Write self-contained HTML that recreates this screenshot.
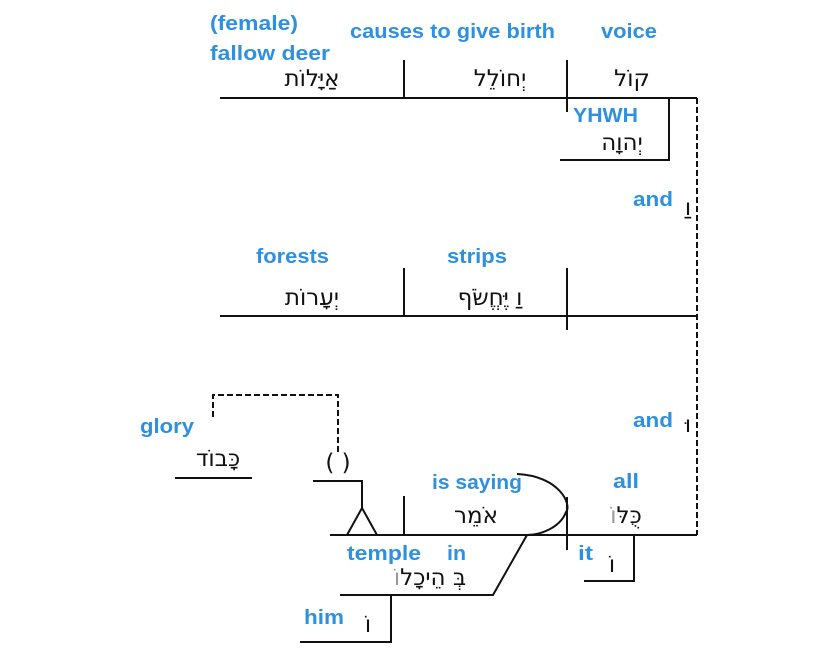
<!DOCTYPE html>
<html><head><meta charset="utf-8"><style>
body{margin:0;background:#fff}
svg{display:block}
.b{font-family:"Liberation Sans",sans-serif;font-weight:bold;font-size:20px;fill:#2e90e0}
.h{font-family:"DejaVu Sans","Liberation Sans",sans-serif;font-size:23px;fill:#111}
.g{fill:#999}
</style></head><body>
<svg width="825" height="670" viewBox="0 0 825 670" xmlns="http://www.w3.org/2000/svg">
<g stroke="#111" stroke-width="2" fill="none">
<line x1="220" y1="98" x2="697" y2="98"/>
<line x1="404" y1="60" x2="404" y2="98"/>
<line x1="567" y1="60" x2="567" y2="112"/>
<polyline points="669,98 669,160 560,160"/>
<line x1="697" y1="98" x2="697" y2="535" stroke-dasharray="6,3"/>
<line x1="220" y1="316" x2="697" y2="316"/>
<line x1="404" y1="268" x2="404" y2="316"/>
<line x1="567" y1="268" x2="567" y2="330"/>
<line x1="330" y1="535" x2="697" y2="535"/>
<line x1="404" y1="496" x2="404" y2="535"/>
<line x1="567" y1="497" x2="567" y2="550"/>
<path d="M517,474 C560,476 572,505 566,512 C560,528 540,535 527,535"/>
<polyline points="527,535 493,595 340,595"/>
<polyline points="391,595 391,642 300,642"/>
<polyline points="634,535 634,581 584,581"/>
<polyline points="347,535 362,508 377,535"/>
<polyline points="362,508 362,481 313,481"/>
<polyline points="338,452 338,395 213,395 213,420" stroke-dasharray="6,3"/>
<line x1="175" y1="478" x2="252" y2="478"/>
</g>
<text class="b" x="210" y="30" textLength="88" lengthAdjust="spacingAndGlyphs">(female)</text>
<text class="b" x="210" y="60" textLength="120" lengthAdjust="spacingAndGlyphs">fallow deer</text>
<text class="b" x="350" y="38" textLength="205" lengthAdjust="spacingAndGlyphs">causes to give birth</text>
<text class="b" x="601" y="38" textLength="56" lengthAdjust="spacingAndGlyphs">voice</text>
<text class="b" x="573" y="122" textLength="65" lengthAdjust="spacingAndGlyphs">YHWH</text>
<text class="b" x="633" y="206" textLength="40" lengthAdjust="spacingAndGlyphs">and</text>
<text class="b" x="256" y="263" textLength="73" lengthAdjust="spacingAndGlyphs">forests</text>
<text class="b" x="447" y="263" textLength="60" lengthAdjust="spacingAndGlyphs">strips</text>
<text class="b" x="633" y="427" textLength="40" lengthAdjust="spacingAndGlyphs">and</text>
<text class="b" x="140" y="433" textLength="54" lengthAdjust="spacingAndGlyphs">glory</text>
<text class="b" x="432" y="489" textLength="90" lengthAdjust="spacingAndGlyphs">is saying</text>
<text class="b" x="613" y="488" textLength="26" lengthAdjust="spacingAndGlyphs">all</text>
<text class="b" x="347" y="560" textLength="74" lengthAdjust="spacingAndGlyphs">temple</text>
<text class="b" x="447" y="560" textLength="19" lengthAdjust="spacingAndGlyphs">in</text>
<text class="b" x="578" y="560" textLength="15" lengthAdjust="spacingAndGlyphs">it</text>
<text class="b" x="304" y="624" textLength="40" lengthAdjust="spacingAndGlyphs">him</text>
<g class="h">
<text x="312" y="86" text-anchor="middle">אַיָּלוֹת</text>
<text x="500" y="86" text-anchor="middle">יְחוֹלֵל</text>
<text x="632" y="86" text-anchor="middle">קוֹל</text>
<text x="622" y="150" text-anchor="middle">יְהוָה</text>
<text x="688" y="215" text-anchor="middle">וַ</text>
<text x="312" y="305" text-anchor="middle">יְעָרוֹת</text>
<text x="490" y="305" text-anchor="middle">וַ יֶּחֱשֹׂף</text>
<text x="688" y="432" text-anchor="middle">וּ</text>
<text x="218" y="466" text-anchor="middle">כָּבוֹד</text>
<text x="338" y="470" text-anchor="middle">( )</text>
<text x="476" y="523" text-anchor="middle">אֹמֵר</text>
<text x="626" y="523" text-anchor="middle">כֻּלּ<tspan class="g">וֹ</tspan></text>
<text x="430" y="585" text-anchor="middle">בְּ הֵיכָל<tspan class="g">וֹ</tspan></text>
<text x="612" y="572" text-anchor="middle">וֹ</text>
<text x="368" y="632" text-anchor="middle">וֹ</text>
</g>
</svg>
</body></html>
